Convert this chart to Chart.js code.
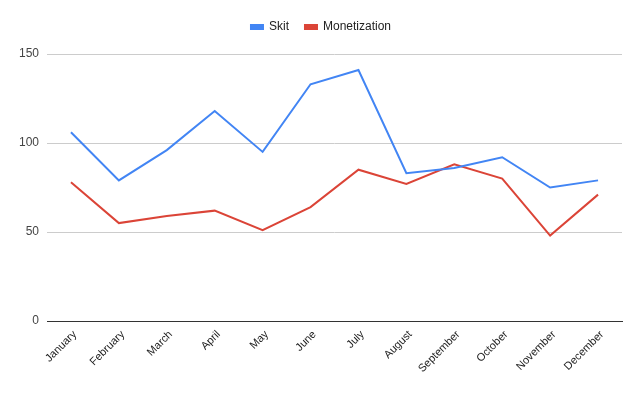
<!DOCTYPE html>
<html>
<head>
<meta charset="utf-8">
<script src="https://cdn.jsdelivr.net/npm/chart.js@4"></script>
<style>
  html, body { margin: 0; padding: 0; background: #fff; }
  #wrap { width: 642px; height: 396px; }
</style>
</head>
<body>
<div id="wrap"><canvas id="lineChart"></canvas></div>
<script>
const months = ['January', 'February', 'March', 'April', 'May', 'June',
  'July', 'August', 'September', 'October', 'November', 'December'];
const skit = [106, 79, 96, 118, 95, 133, 141, 83, 86, 92, 75, 79];
const monetization = [78, 55, 59, 62, 51, 64, 85, 77, 88, 80, 48, 71];
const yTicks = [0, 50, 100, 150];

Chart.defaults.font.family = '"Liberation Sans", Arial, sans-serif';
Chart.defaults.font.size = 12;
Chart.defaults.color = '#222';

const line = (label, data, color) => ({
  label,
  data,
  borderColor: color,
  backgroundColor: color,
  borderWidth: 2,
  pointRadius: 0,
  fill: false,
  lineTension: 0,
});

// extra room under the legend, and centre it on the whole canvas
const legendGap = {
  id: 'legendGap',
  beforeInit(chart) {
    const fit = chart.legend.fit;
    chart.legend.fit = function () {
      fit.bind(chart.legend)();
      this.height += 11;
    };
  },
  afterLayout(chart) {
    chart.legend.left += 10;
    chart.legend.right += 10;
  },
};

new Chart(document.getElementById('lineChart'), {
  type: 'line',
  data: {
    labels: months,
    datasets: [
      line('Skit', skit, '#4285f4'),
      line('Monetization', monetization, '#db4437'),
    ],
  },
  plugins: [legendGap],
  options: {
    responsive: true,
    maintainAspectRatio: false,
    animation: false,
    layout: { padding: { left: 0, right: 20, top: 5, bottom: 0 } },
    plugins: {
      tooltip: { enabled: false },
      legend: {
        position: 'top',
        labels: {
          boxWidth: 12,
          boxHeight: 4,
          padding: 16,
          color: '#222',
        },
      },
    },
    scales: {
      x: {
        offset: true,
        grid: { display: false },
        border: { color: '#333', width: 1 },
        ticks: {
          minRotation: 45,
          maxRotation: 45,
          color: '#222',
          padding: -1,
          labelOffset: 4,
          font: { size: 11 },
        },
        afterFit: (s) => { s.height = 75; },
      },
      y: {
        min: 0,
        max: 150,
        border: { display: false },
        grid: {
          color: (ctx) => (ctx.tick && ctx.tick.value === 0 ? '#333' : '#ccc'),
          drawTicks: false,
        },
        afterBuildTicks: (s) => { s.ticks = yTicks.map(v => ({ value: v })); },
        ticks: { color: '#444', padding: 8 },
        afterFit: (s) => { s.width = 47; },
      },
    },
  },
});
</script>
</body>
</html>
